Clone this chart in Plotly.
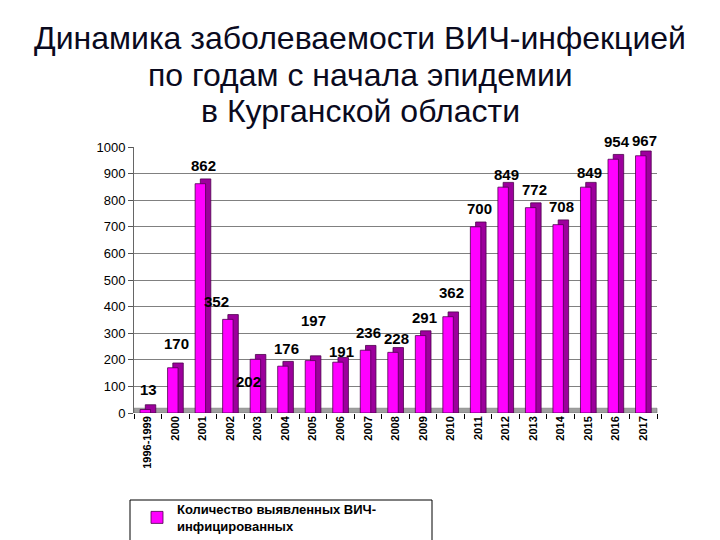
import plotly.graph_objects as go

categories = ["1996-1999", "2000", "2001", "2002", "2003", "2004", "2005", "2006",
              "2007", "2008", "2009", "2010", "2011", "2012", "2013", "2014",
              "2015", "2016", "2017"]
values = [13, 170, 862, 352, 202, 176, 197, 191, 236, 228, 291, 362, 700, 849,
          772, 708, 849, 954, 967]
series_name = "Количество выявленных ВИЧ-<br>инфицированных"
title_lines = ["Динамика заболеваемости ВИЧ-инфекцией",
               "по годам с начала эпидемии",
               "в Курганской области"]
y_ticks = [0, 100, 200, 300, 400, 500, 600, 700, 800, 900, 1000]

W, H = 720, 540
OFF = 8  # page body margin
L, R, T, B = 126, 71, 139, 135
PW, PH = W - L - R, H - T - B

def px_x(px):
    return (px - OFF - L) / PW

def px_y(py):
    return (H - B - (py - OFF)) / PH

depth = 18  # 3D depth in data units (style)
front_w, side_w = 0.38, 0.19
idx = list(range(len(categories)))
FONT = "Liberation Sans, Arial"

fig = go.Figure()
# side/top face (darker) drawn behind
fig.add_trace(go.Bar(
    x=idx, y=[v + depth for v in values],
    width=front_w, offset=-0.28 + side_w,
    marker=dict(color="#9c009c", line=dict(color="#4d004d", width=0.8)),
    showlegend=False, hoverinfo="skip"))
# front face
fig.add_trace(go.Bar(
    x=idx, y=values, name=series_name,
    width=front_w, offset=-0.28,
    marker=dict(color="#ff00ff", line=dict(color="#4d004d", width=0.8)),
    showlegend=True))

# data labels (pixel offsets are styling)
label_dy = {0: 20, 1: 24, 3: 18, 4: -22, 6: 40, 7: 11, 9: 14, 11: 24, 13: 13,
            16: 15, 18: 15}
label_dx = {3: -14, 4: -9}
for i, v in zip(idx, values):
    fig.add_annotation(
        x=i, y=v, xref="x", yref="y", text=str(v), showarrow=False,
        yshift=label_dy.get(i, 18), xshift=label_dx.get(i, 1),
        font=dict(family=FONT, size=15, color="black", weight="bold"))

# title lines
for line, cy in zip(title_lines, [38, 75, 111]):
    fig.add_annotation(
        x=px_x(360), y=px_y(cy), xref="paper", yref="paper", text=line,
        showarrow=False, xanchor="center", yanchor="middle",
        font=dict(family=FONT, size=32, color="#0a0a1e"))

# floor
fig.add_shape(type="rect", xref="paper", yref="y", x0=0.0, x1=1.0, y0=0, y1=depth,
              fillcolor="#a0a0a0", line=dict(color="#707070", width=0.6),
              layer="between")

# legend frame
fig.add_shape(type="rect", xref="paper", yref="paper",
              x0=px_x(130), x1=px_x(432), y0=px_y(556), y1=px_y(500),
              line=dict(color="black", width=1), fillcolor="rgba(0,0,0,0)")

fig.update_layout(
    width=W, height=H,
    margin=dict(l=L, r=R, t=T, b=B, autoexpand=False),
    paper_bgcolor="white", plot_bgcolor="white",
    barmode="overlay",
    xaxis=dict(tickmode="array", tickvals=idx, ticktext=categories,
               range=[-0.5, len(categories) - 0.5],
               tickangle=-90, ticks="", showline=False, showgrid=False,
               zeroline=False,
               minor=dict(tickvals=[i - 0.5 for i in idx] + [len(idx) - 0.5],
                          ticks="outside", ticklen=5, tickcolor="black"),
               tickfont=dict(family=FONT, size=11, color="black", weight="bold")),
    yaxis=dict(range=[0, 1000], tickvals=y_ticks, ticks="outside", ticklen=5,
               tickcolor="#555", showline=True, linecolor="#666", linewidth=1,
               showgrid=True, gridcolor="#808080", gridwidth=1, zeroline=False,
               tickfont=dict(family=FONT, size=13, color="black")),
    legend=dict(x=px_x(137), y=px_y(494), xanchor="left", yanchor="top",
                xref="paper", yref="paper", bgcolor="rgba(0,0,0,0)",
                font=dict(family=FONT, size=13, color="black", weight="bold"),
                itemwidth=30),
)

fig.write_html("out.html")
